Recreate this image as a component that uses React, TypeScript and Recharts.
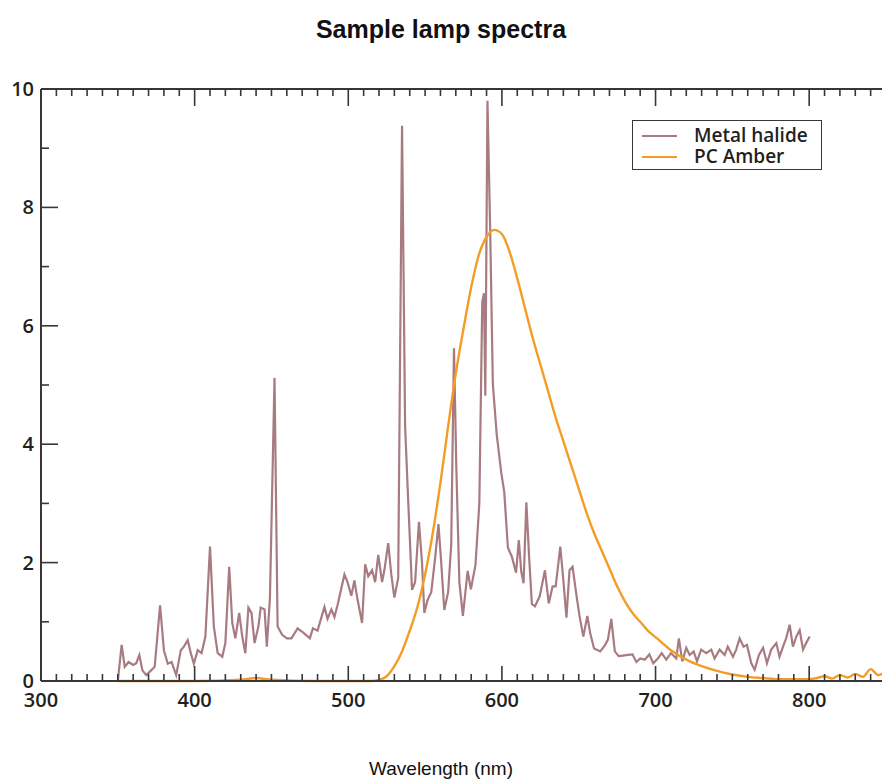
import { LineChart, Line, XAxis, YAxis } from 'recharts'

// Metal halide lamp (nm / relative power)
const mhWavelength = [
  350, 352.5, 354.5, 357, 360, 362, 364, 366, 368.5, 370.5, 374, 377.5, 380, 382.5, 385, 388,
  391, 393, 395.5, 397.5, 399.5, 402, 404.5, 407, 410, 412.5, 415, 418, 420, 422.5, 424.5,
  426.5, 429, 431, 433, 435, 437, 439, 441.5, 443, 445.5, 447, 449, 452, 454, 457, 460, 463,
  467, 470.5, 475, 477, 480, 484.5, 486.5, 489, 491, 493, 497.5, 499.5, 502, 504, 506, 509,
  511, 513, 515.5, 517.5, 519.5, 522, 523.5, 526, 528, 530, 532.5, 535, 537, 539, 541.5,
  543.5, 546, 548, 549.5, 551.5, 554, 556.5, 558.7, 560.5, 562.5, 565, 567, 568.8, 570.3,
  572.3, 574.6, 577.7, 579.8, 582.8, 585.3, 587.2, 588.3, 589.2, 590.6, 592.4, 594.1, 596.6,
  599.6, 601.5, 603.9, 606.5, 609.2, 611, 612.6, 614.1, 615.9, 617.7, 619.5, 621.5, 624.6,
  628, 630.5, 633, 635, 638, 640, 642, 644, 646, 648.5, 650.5, 653, 655.6, 657.5, 660, 664,
  667, 669, 671.2, 673.5, 676, 678.8, 682, 685, 687.5, 690, 693, 696, 698.5, 701.5, 704, 707,
  710, 713.5, 715.2, 717.4, 720, 722.2, 724.8, 727, 729.7, 733, 736.3, 738.4, 741.7, 745, 747,
  750.4, 752.5, 754.7, 757.3, 759.5, 762.3, 764.5, 767.3, 770, 772.5, 775.3, 778.6, 780.7,
  783.4, 785, 787.3, 789.4, 791.6, 793.8, 796, 798, 800.3,
]
const metalHalide = [
  0, 0.61, 0.24, 0.32, 0.27, 0.3, 0.44, 0.18, 0.1, 0.15, 0.24, 1.28, 0.52, 0.29, 0.32, 0.1,
  0.52, 0.58, 0.69, 0.47, 0.29, 0.52, 0.47, 0.75, 2.27, 0.92, 0.47, 0.41, 0.64, 1.93, 0.98,
  0.72, 1.15, 0.75, 0.47, 1.24, 1.15, 0.64, 0.92, 1.24, 1.21, 0.58, 1.4, 5.12, 0.92, 0.78,
  0.72, 0.72, 0.89, 0.82, 0.72, 0.89, 0.85, 1.25, 1.05, 1.21, 1.08, 1.28, 1.8, 1.67, 1.44,
  1.7, 1.38, 0.98, 1.97, 1.77, 1.87, 1.67, 2.13, 1.67, 1.87, 2.33, 1.8, 1.41, 1.74, 9.38,
  4.3, 3.05, 1.54, 1.67, 2.69, 2.0, 1.15, 1.36, 1.5, 2.07, 2.65, 2.0, 1.2, 1.5, 2.3, 5.62,
  3.64, 1.67, 1.1, 1.86, 1.55, 1.96, 3.0, 6.4, 6.55, 4.82, 9.8, 7.57, 5.02, 4.17, 3.51, 3.2,
  2.25, 2.1, 1.83, 2.38, 1.85, 1.65, 3.02, 2.1, 1.3, 1.26, 1.43, 1.87, 1.31, 1.6, 1.6, 2.27,
  1.7, 1.07, 1.87, 1.93, 1.45, 1.1, 0.75, 1.1, 0.8, 0.55, 0.5, 0.6, 0.7, 1.05, 0.5, 0.42,
  0.43, 0.44, 0.45, 0.32, 0.38, 0.36, 0.45, 0.3, 0.38, 0.47, 0.36, 0.47, 0.38, 0.72, 0.33,
  0.56, 0.44, 0.5, 0.33, 0.53, 0.47, 0.53, 0.38, 0.53, 0.44, 0.58, 0.41, 0.53, 0.72, 0.58,
  0.61, 0.3, 0.19, 0.44, 0.56, 0.3, 0.53, 0.64, 0.41, 0.61, 0.72, 0.95, 0.58, 0.75, 0.86,
  0.53, 0.64, 0.75,
]

// PC Amber LED
const pcWavelength = [
  350, 400, 430, 440, 450, 480, 515, 520, 525, 530, 535, 540, 545, 550, 555, 560, 565, 570,
  575, 580, 585, 590, 595, 600, 605, 610, 615, 620, 625, 630, 635, 640, 645, 650, 655, 660,
  665, 670, 675, 680, 685, 690, 695, 700, 710, 720, 730, 740, 750, 760, 770, 780, 790, 800,
  805, 810, 815, 820, 825, 830, 835, 840, 845, 850,
]
const pcAmber = [
  0, 0, 0.02, 0.05, 0.02, 0, 0, 0.02, 0.08, 0.25, 0.5, 0.85, 1.25, 1.8, 2.5, 3.35, 4.3, 5.2,
  5.95, 6.65, 7.2, 7.5, 7.62, 7.55, 7.25, 6.8, 6.3, 5.8, 5.35, 4.9, 4.45, 4.05, 3.65, 3.25,
  2.85, 2.5, 2.2, 1.9, 1.6, 1.35, 1.15, 1.0, 0.85, 0.74, 0.52, 0.36, 0.25, 0.17, 0.11, 0.07,
  0.05, 0.03, 0.03, 0.03, 0.05, 0.08, 0.04, 0.1, 0.06, 0.12, 0.07, 0.2, 0.1, 0.16,
]

const seriesNames = ['Metal halide', 'PC Amber']
const seriesColors = ['#a87b80', '#f39d27']

const xTicks = [
  300, 310, 320, 330, 340, 350, 360, 370, 380, 390, 400, 410, 420, 430, 440, 450, 460, 470,
  480, 490, 500, 510, 520, 530, 540, 550, 560, 570, 580, 590, 600, 610, 620, 630, 640, 650,
  660, 670, 680, 690, 700, 710, 720, 730, 740, 750, 760, 770, 780, 790, 800, 810, 820, 830,
  840, 850,
]
const xLabels = [300, 400, 500, 600, 700, 800]
const yTicks = [0, 1, 2, 3, 4, 5, 6, 7, 8, 9, 10]
const yLabels = [0, 2, 4, 6, 8, 10]

const mhData = mhWavelength.map((nm, i) => ({ nm, v: metalHalide[i] }))
const pcData = pcWavelength.map((nm, i) => ({ nm, v: pcAmber[i] }))

const AXIS = '#3b3536'
const TICK_FONT = "'Open Sans', sans-serif"

const BottomTick = ({ x, y, payload }: any) => {
  const major = xLabels.includes(payload.value)
  return (
    <g>
      <line x1={x} x2={x} y1={y} y2={y - (major ? 15 : 7)} stroke={AXIS} strokeWidth={1.6} />
      {major && (
        <text x={x} y={y + 26} textAnchor="middle" fontFamily={TICK_FONT} fontWeight={600} fontSize={20} fill="#231f20">
          {payload.value}
        </text>
      )}
    </g>
  )
}

const TopTick = ({ x, y, payload }: any) => {
  const major = xLabels.includes(payload.value)
  return <line x1={x} x2={x} y1={y} y2={y + (major ? 17 : 7)} stroke={AXIS} strokeWidth={1.6} />
}

const LeftTick = ({ x, y, payload }: any) => {
  const major = yLabels.includes(payload.value)
  return (
    <g>
      <line x1={x} x2={x + (major ? 17 : 8)} y1={y} y2={y} stroke={AXIS} strokeWidth={1.6} />
      {major && (
        <text x={x - 7} y={y + 7} textAnchor="end" fontFamily={TICK_FONT} fontWeight={600} fontSize={20} fill="#231f20">
          {payload.value}
        </text>
      )}
    </g>
  )
}

const RightTick = ({ x, y, payload }: any) => {
  const major = yLabels.includes(payload.value)
  return <line x1={x} x2={x - (major ? 17 : 8)} y1={y} y2={y} stroke={AXIS} strokeWidth={1.6} />
}

const LegendBox = () => (
  <div
    style={{
      position: 'absolute', left: 632, top: 120, width: 190, height: 50,
      border: `1.5px solid ${AXIS}`, background: '#fff', boxSizing: 'border-box',
      padding: '4px 0 0 9px', fontFamily: TICK_FONT, fontWeight: 600, fontSize: 19,
      lineHeight: '21px', color: '#231f20',
    }}
  >
    {seriesNames.map((name, i) => (
      <div key={name} style={{ display: 'flex', alignItems: 'center', height: 21 }}>
        <span style={{ display: 'inline-block', width: 35, height: 2, background: seriesColors[i], marginRight: 17 }} />
        {name}
      </div>
    ))}
  </div>
)

export default function App() {
  return (
    <div style={{ position: 'absolute', left: 0, top: 0, width: 882, height: 784, overflow: 'hidden', background: '#fff' }}>
      <div
        style={{
          position: 'absolute', top: 15, left: 0, width: 882, textAlign: 'center',
          fontFamily: "'Liberation Sans', Arial, sans-serif", fontWeight: 700, fontSize: 25, color: '#111',
        }}
      >
        Sample lamp spectra
      </div>
      <LineChart width={887} height={784} margin={{ top: 88, right: 0, bottom: 102, left: 40 }}>
        <XAxis
          xAxisId="b" dataKey="nm" type="number" domain={[300, 850]} allowDataOverflow
          ticks={xTicks} interval={0} tick={<BottomTick />} tickLine={false} tickSize={0} tickMargin={0}
          height={1} axisLine={{ stroke: AXIS, strokeWidth: 2 }}
        />
        <XAxis
          xAxisId="t" orientation="top" dataKey="nm" type="number" domain={[300, 850]} allowDataOverflow
          ticks={xTicks} interval={0} tick={<TopTick />} tickLine={false} tickSize={0} tickMargin={0}
          height={1} axisLine={{ stroke: AXIS, strokeWidth: 2 }}
        />
        <YAxis
          yAxisId="l" type="number" domain={[0, 10]} ticks={yTicks} interval={0} tick={<LeftTick />}
          tickLine={false} tickSize={0} tickMargin={0} width={1} axisLine={{ stroke: AXIS, strokeWidth: 2 }}
        />
        <YAxis
          yAxisId="r" orientation="right" type="number" domain={[0, 10]} ticks={yTicks} interval={0}
          tick={<RightTick />} tickLine={false} tickSize={0} tickMargin={0} width={1}
          axisLine={{ stroke: AXIS, strokeWidth: 2 }}
        />
        <Line
          data={mhData} dataKey="v" name={seriesNames[0]} xAxisId="b" yAxisId="l" type="linear"
          stroke={seriesColors[0]} strokeWidth={2.2} dot={false} isAnimationActive={false}
        />
        <Line
          data={pcData} dataKey="v" name={seriesNames[1]} xAxisId="b" yAxisId="l" type="monotone"
          stroke={seriesColors[1]} strokeWidth={2.4} dot={false} isAnimationActive={false}
        />
      </LineChart>
      <LegendBox />
      <div
        style={{
          position: 'absolute', top: 758, left: 0, width: 882, textAlign: 'center',
          fontFamily: "'Liberation Sans', Arial, sans-serif", fontSize: 19, color: '#111',
        }}
      >
        Wavelength (nm)
      </div>
    </div>
  )
}
